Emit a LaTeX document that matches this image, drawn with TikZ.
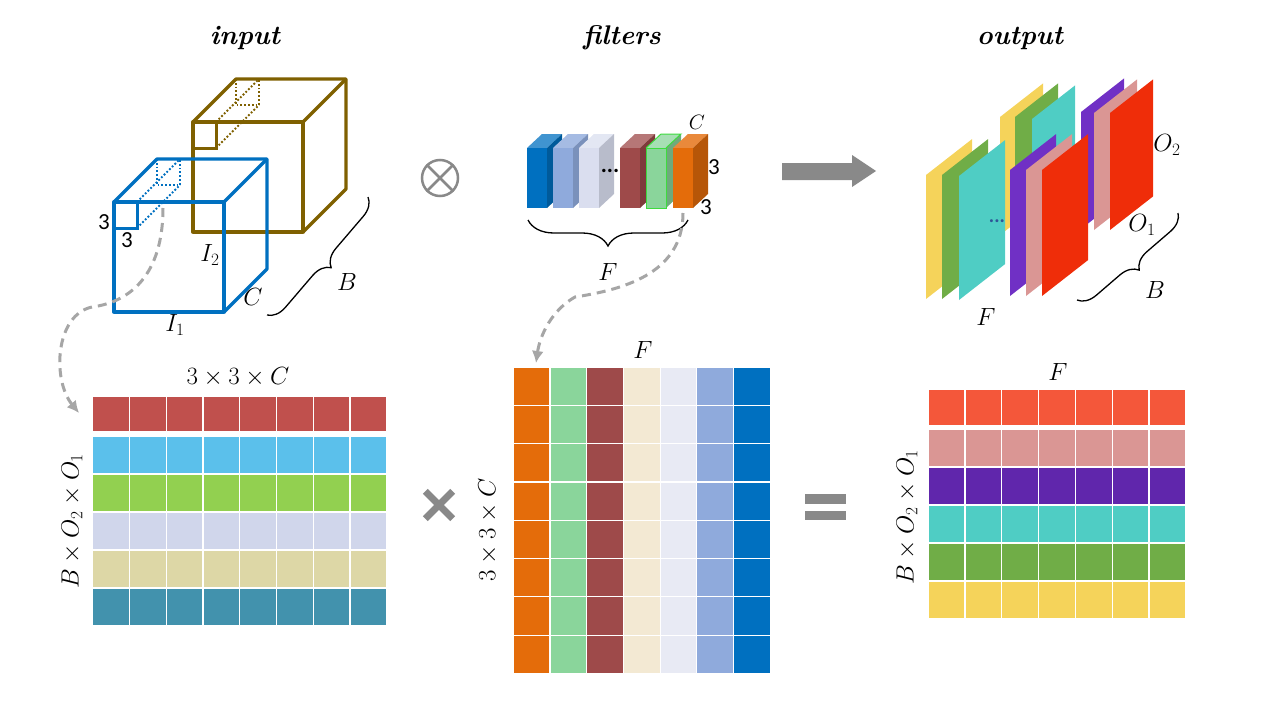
\documentclass[tikz,border=0pt]{standalone}
\usepackage{amsmath}
\usepackage{fontspec}
\newfontfamily\calibri{Carlito}
\usepackage{tikz}
\usetikzlibrary{decorations.pathreplacing,arrows.meta}

% colours
\definecolor{cubeblue}{HTML}{0070C0}
\definecolor{cubebrown}{HTML}{7F6000}
\definecolor{opgray}{HTML}{898989}
\definecolor{dashgray}{HTML}{A6A6A6}
\definecolor{dotblue}{HTML}{2F5597}
\definecolor{greenline}{HTML}{3EDB3E}
% left matrix rows
\definecolor{lmA}{HTML}{C0504D}
\definecolor{lmB}{HTML}{5BC0EB}
\definecolor{lmC}{HTML}{92D050}
\definecolor{lmD}{HTML}{D0D6EB}
\definecolor{lmE}{HTML}{DDD7A6}
\definecolor{lmF}{HTML}{4292AD}
% middle matrix columns
\definecolor{mmA}{HTML}{E46C0A}
\definecolor{mmB}{HTML}{8AD59B}
\definecolor{mmC}{HTML}{9E4A4A}
\definecolor{mmD}{HTML}{F3E9D3}
\definecolor{mmE}{HTML}{E8EAF4}
\definecolor{mmF}{HTML}{8FAADC}
\definecolor{mmG}{HTML}{0070C0}
% right matrix rows
\definecolor{rmA}{HTML}{F4573A}
\definecolor{rmB}{HTML}{DA9694}
\definecolor{rmC}{HTML}{6026AC}
\definecolor{rmD}{HTML}{4FCDC4}
\definecolor{rmE}{HTML}{70AD47}
\definecolor{rmF}{HTML}{F5D35A}
% output panels
\definecolor{pnYellow}{HTML}{F5D35A}
\definecolor{pnGreen}{HTML}{70AD47}
\definecolor{pnCyan}{HTML}{4FCDC4}
\definecolor{pnPurple}{HTML}{7030C5}
\definecolor{pnPink}{HTML}{DA9694}
\definecolor{pnRed}{HTML}{EF2D09}

\tikzset{
	cubeline/.style={line width=3.3pt, line join=round},
	patchline/.style={line width=1.8pt, dotted},
	bracetip/.style={decorate, decoration={brace, amplitude=18pt}, line width=1.3pt},
	flow/.style={dashgray, dashed, dash pattern=on 9pt off 6pt, line width=3pt, -{Latex[length=12pt,width=12pt]}},
	cell/.style={draw=white, line width=1.2pt},
	title/.style={font=\fontsize{27}{32}\selectfont\bfseries\itshape},
}

% cube: x, y of front top-left, colour
\newcommand{\drawcube}[3]{%
	\draw[cubeline, #3] (#1,#2) rectangle ++(110,110);
	\draw[cubeline, #3] (#1,#2) -- ++(43,-43) -- ++(110,0) -- ++(0,110) -- ++(-43,43);
	\draw[cubeline, #3] (#1+110,#2) -- ++(43,-43);
	\draw[line width=3pt, #3] (#1,#2) rectangle ++(23,26);
	\draw[patchline, #3] (#1+43,#2-43) rectangle ++(23,26);
	\draw[patchline, #3] (#1+23,#2+26) -- ++(43,-43);
	\draw[patchline, #3] (#1+23,#2) -- ++(43,-43);
}
% filter block: x, front, top, side
\newcommand{\filterblock}[4]{%
	\fill[#3] (#1,148) -- ++(15,-14) -- ++(20,0) -- ++(-15,14) -- cycle;
	\fill[#4] (#1+20,148) -- ++(15,-14) -- ++(0,60) -- ++(-15,14) -- cycle;
	\fill[#2] (#1,148) rectangle ++(20,60);
}
% output panel: x, y, width, height, colour
\newcommand{\outpanel}[5]{%
	\fill[#5] (#1,#2) -- ++(#3,-0.78*#3) -- ++(0,#4) -- ++(-#3,0.78*#3) -- cycle;
}

\begin{document}
\begin{tikzpicture}[x=1pt, y=-1pt, font=\fontsize{23}{27}\selectfont]
	\useasboundingbox (0,0) rectangle (1280,720);

	% Titles
	\node[title] (tinput) at (245,38) {input};
	\node[title] (tfilters) at (622,38) {filters};
	\node[title] (toutput) at (1020,38) {output};

	% Input cubes
	\drawcube{193}{122}{cubebrown}
	\drawcube{114}{202}{cubeblue}
	\node (lthree) at (104,222) {\calibri 3};
	\node (bthree) at (127,240) {\calibri 3};
	\node (itwo) at (210,255) {$I_2$};
	\node (ione) at (175,325) {$I_1$};
	\node (cin) at (253,297) {$C$};
	\node (bin) at (347,282) {$B$};
	\draw[bracetip] (368,197) -- (267,315);

	% Convolution sign
	\node[circle, draw=opgray, line width=2.5pt, minimum size=36pt, inner sep=0pt] (conv) at (440,178) {};
	\draw[opgray, line width=2.5pt] (conv.north west) -- (conv.south east);
	\draw[opgray, line width=2.5pt] (conv.north east) -- (conv.south west);

	% Filters
	\filterblock{527}{mmG}{cubeblue!75!white}{cubeblue!80!black}
	\filterblock{553}{mmF}{mmF!80!white}{mmF!85!black}
	\filterblock{579}{lmD!80!white}{lmD!60!white}{lmD!70!gray}
	\filterblock{620}{mmC}{mmC!75!white}{mmC!80!black}
	\filterblock{646}{mmB}{mmB!75!white}{mmB!80!black}
	\draw[greenline, line width=1pt] (646,148) rectangle ++(20,60);
	\draw[greenline, line width=1pt] (646,148) -- ++(15,-14) -- ++(20,0) -- ++(-15,14);
	\filterblock{673}{mmA}{mmA!80!white}{mmA!80!black}
	\node (fdots) at (610,171) {\calibri\bfseries ...};
	\node (cfilt) at (697,122) {\fontsize{21}{24}\selectfont $C$};
	\node (hthree) at (714,167) {\calibri 3};
	\node (wthree) at (706,207) {\calibri 3};
	\draw[bracetip, decoration={amplitude=26pt}] (688,220) -- (528,220);
	\node (ffilt) at (608,272) {$F$};

	% Block arrow
	\fill[opgray] (782,163) -- (852,163) -- (852,155) -- (876,171) -- (852,187) -- (852,180) -- (782,180) -- cycle;

	% Output feature maps
	\outpanel{1000}{117}{43}{118}{pnYellow}
	\outpanel{1015}{117}{43}{118}{pnGreen}
	\outpanel{1032}{119}{43}{118}{pnCyan}
	\outpanel{1081}{112}{43}{117}{pnPurple}
	\outpanel{1094}{113}{43}{117}{pnPink}
	\outpanel{1110}{113}{43}{117}{pnRed}
	\outpanel{926}{175}{46}{124}{pnYellow}
	\outpanel{942}{175}{46}{124}{pnGreen}
	\outpanel{959}{176}{46}{124}{pnCyan}
	\outpanel{1010}{170}{46}{126}{pnPurple}
	\outpanel{1026}{170}{46}{126}{pnPink}
	\outpanel{1042}{170}{46}{126}{pnRed}
	\node[text=dotblue, font=\fontsize{20}{24}\selectfont] (odots) at (997,221) {\calibri\bfseries ...};
	\node (otwo) at (1167,145) {$O_2$};
	\node (oone) at (1142,225) {$O_1$};
	\node (bout) at (1155,290) {$B$};
	\node (fout) at (986,317) {$F$};
	\draw[bracetip] (1178,213) -- (1077,300);

	% Left matrix (im2col of input)
	\foreach \c/\ry/\rh in {lmA/396/36, lmB/436/38, lmC/474/38, lmD/512/38, lmE/550/38, lmF/588/38}
		\foreach \j in {0,...,7}
			\filldraw[cell, fill=\c] (92.7+36.75*\j,\ry) rectangle ++(36.75,\rh);
	\node (lmtop) at (238,377) {$3\times3\times C$};
	\node[rotate=90] (lmside) at (72,521) {$B\times O_2\times O_1$};

	% Times sign
	\node[minimum size=27pt, inner sep=0pt] (mul) at (439,505) {};
	\draw[opgray, line width=7pt] (mul.north west) -- (mul.south east);
	\draw[opgray, line width=7pt] (mul.north east) -- (mul.south west);

	% Middle matrix (filters)
	\foreach \c [count=\j from 0] in {mmA,mmB,mmC,mmD,mmE,mmF,mmG}
		\foreach \i in {0,...,7}
			\filldraw[cell, fill=\c] (513.3+36.7*\j,367+38.3*\i) rectangle ++(36.7,38.3);
	\node (mmtop) at (643,350) {$F$};
	\node[rotate=90] (mmside) at (488,530) {$3\times3\times C$};

	% Equal sign
	\fill[opgray] (805,494) rectangle (846,504);
	\fill[opgray] (805,511) rectangle (846,520);

	% Right matrix (output)
	\foreach \c/\ry/\rh in {rmA/389/37, rmB/429/38, rmC/467/38, rmD/505/38, rmE/543/38, rmF/581/38}
		\foreach \j in {0,...,6}
			\filldraw[cell, fill=\c] (928.3+36.77*\j,\ry) rectangle ++(36.77,\rh);
	\node (rmtop) at (1058,372) {$F$};
	\node[rotate=90] (rmside) at (907,517) {$B\times O_2\times O_1$};

	% Dashed links
	\coordinate (ipatch) at (163,208);
	\coordinate (lmin) at (79,413);
	\draw[flow] (ipatch) .. controls (163,275) and (130,302) .. (92,307) .. controls (55,315) and (52,380) .. (lmin);
	\coordinate (fpatch) at (683,213);
	\coordinate (mmin) at (536,363);
	\draw[flow] (fpatch) .. controls (683,275) and (620,290) .. (575,297) .. controls (552,310) and (540,335) .. (mmin);
\end{tikzpicture}
\end{document}
